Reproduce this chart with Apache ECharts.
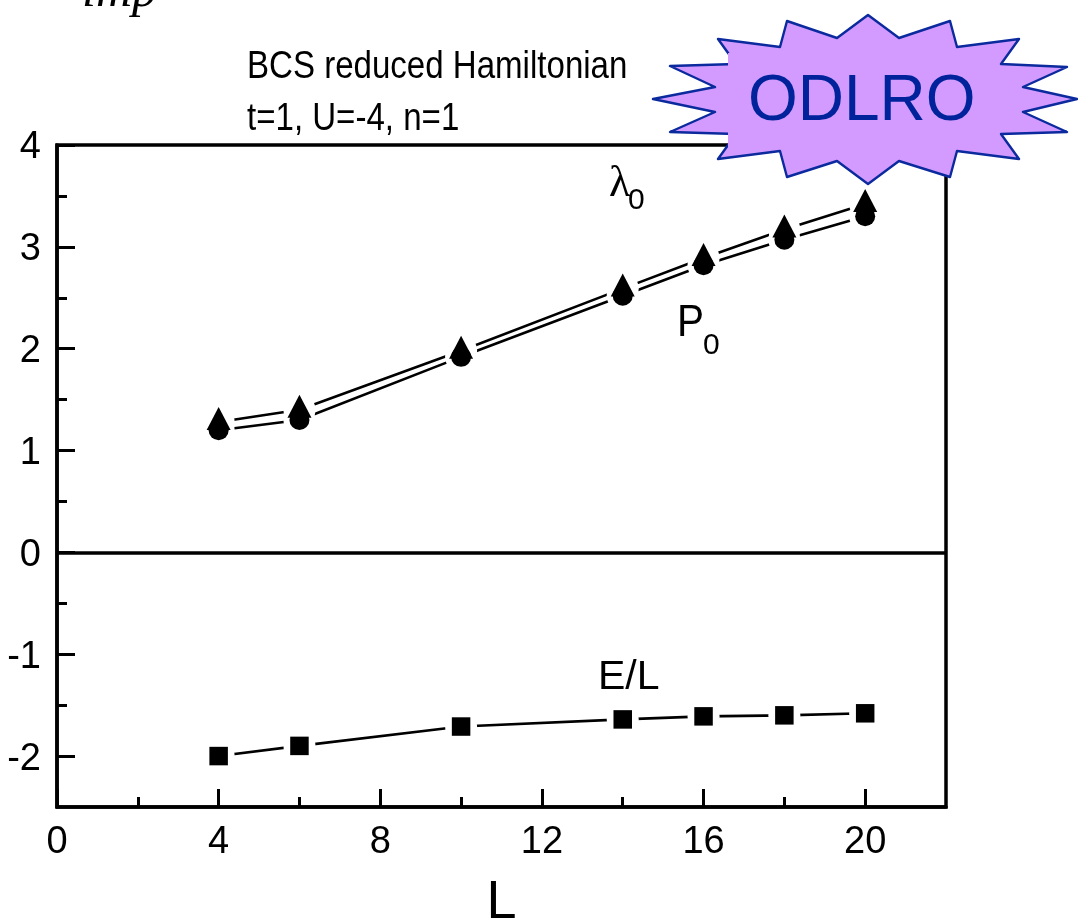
<!DOCTYPE html>
<html><head><meta charset="utf-8">
<style>html,body{margin:0;padding:0;background:#fff}#c{width:1078px;height:919px}</style>
<script src="https://cdn.jsdelivr.net/npm/echarts@6/dist/echarts.min.js"></script>
</head><body><div id="c"></div>
<script>
const sizes = [4, 6, 10, 14, 16, 18, 20];
const lambda0 = [1.28, 1.40, 1.98, 2.59, 2.89, 3.17, 3.42];
const p0 = [1.20, 1.30, 1.92, 2.52, 2.82, 3.07, 3.30];
const energy = [-2.0, -1.90, -1.71, -1.64, -1.61, -1.60, -1.58];
const xMajor = [0, 4, 8, 12, 16, 20];
const xMinor = [2, 6, 10, 14, 18];
const yMajor = [-2, -1, 0, 1, 2, 3, 4];
const yMinor = [-1.5, -0.5, 0.5, 1.5, 2.5, 3.5];
const starOutline = [[868,15],[899,38],[950,21],[957,47],[1019,39],[1001,64],[1067,67],[1023,87],[1077,99],[1023,112],[1067,132],[1001,134],[1019,159],[957,151],[950,177],[899,161],[868,184],[837,161],[787,177],[780,151],[718,159],[736,134],[670,132],[715,112],[653,99],[715,87],[670,66],[736,64],[718,39],[780,47],[787,21],[837,38]];

const FONT = '"Liberation Sans", Arial, sans-serif';
const pairs = s => sizes.map((x, i) => [x, s[i]]);
const line = (name, d) => ({name, type:'line', data:pairs(d), symbol:'none', z:2, lineStyle:{color:'#000', width:2.6, opacity:1}, animation:false});
const mask = d => ({type:'scatter', data:pairs(d), symbol:'circle', symbolSize:32, itemStyle:{color:'#fff', opacity:1}, z:3, silent:true, animation:false});
const marks = (d, symbol, size, off) => ({type:'scatter', data:pairs(d), symbol, symbolSize:size, symbolOffset:off, itemStyle:{color:'#000', opacity:1}, z:4, animation:false});
const label = (x, y, text, size, extra) => ({type:'text', z:50, x, y, style:Object.assign({text, fill:'#000', font:size+'px '+FONT}, extra||{})});

const chart = echarts.init(document.getElementById('c'), null, {renderer:'canvas'});
chart.setOption({
  animation:false,
  backgroundColor:'#fff',
  grid:{left:57, right:132, top:145, bottom:112, outerBoundsMode:'none', show:true, borderColor:'#000', borderWidth:3.5, backgroundColor:'transparent'},
  xAxis:[
    {type:'value', min:0, max:22, name:'L', nameLocation:'middle', nameGap:69,
     nameTextStyle:{fontFamily:FONT, fontSize:54, color:'#000'},
     axisLine:{onZero:false, lineStyle:{color:'#000', width:3.5}},
     axisTick:{inside:true, length:18, customValues:xMajor, lineStyle:{color:'#000', width:3}},
     axisLabel:{customValues:xMajor, margin:17, fontFamily:FONT, fontSize:38, color:'#000'},
     splitLine:{show:false}},
    {type:'value', min:0, max:22, position:'bottom',
     axisLine:{show:false, onZero:false},
     axisTick:{inside:true, length:10, customValues:xMinor, lineStyle:{color:'#000', width:3}},
     axisLabel:{show:false}, splitLine:{show:false}}
  ],
  yAxis:[
    {type:'value', min:-2.5, max:4,
     axisLine:{onZero:false, lineStyle:{color:'#000', width:3.5}},
     axisTick:{inside:true, length:18, customValues:yMajor, lineStyle:{color:'#000', width:3}},
     axisLabel:{customValues:yMajor, margin:16, verticalAlign:'top', lineHeight:6, fontFamily:FONT, fontSize:38, color:'#000'},
     splitLine:{show:false}},
    {type:'value', min:-2.5, max:4, position:'left',
     axisLine:{show:false, onZero:false},
     axisTick:{inside:true, length:10, customValues:yMinor, lineStyle:{color:'#000', width:3}},
     axisLabel:{show:false}, splitLine:{show:false}}
  ],
  series:[
    Object.assign(line('lambda0', lambda0), {markLine:{silent:true, symbol:'none', animation:false, label:{show:false},
      lineStyle:{color:'#000', width:3.5, type:'solid', opacity:1}, data:[{yAxis:0}]}}),
    line('P0', p0),
    line('E/L', energy),
    mask(lambda0), mask(p0), mask(energy),
    marks(p0, 'circle', 20, [0,0]),
    marks(lambda0, 'triangle', [24,23], [0,-3.5]),
    marks(energy, 'rect', 18.5, [0,0])
  ],
  graphic:[
    {type:'text', z:50, x:82, y:-32, style:{text:'imp', fill:'#000', font:'italic 50px "Liberation Serif", serif'}},
    {type:'text', z:50, x:247, y:49, scaleX:0.87, style:{text:'BCS reduced Hamiltonian', fill:'#000', font:'38px '+FONT}},
    {type:'text', z:50, x:247, y:101, scaleX:0.87, style:{text:'t=1, U=-4, n=1', fill:'#000', font:'38px '+FONT}},
    label(609, 162, 'λ', 44, {font:'44px "Liberation Serif", serif'}),
    label(628, 186, '0', 30),
    {type:'text', z:50, x:677, y:302, scaleX:0.92, style:{text:'P', fill:'#000', font:'44px '+FONT}},
    label(703, 331, '0', 30),
    {type:'text', z:50, x:598, y:657, style:{text:'E/L', fill:'#000', font:'41px '+FONT}},
    {type:'polygon', z:60, shape:{points:starOutline}, style:{fill:'#d39bff', stroke:'#0a2a9e', lineWidth:2.4, lineJoin:'round'}},
    {type:'rect', z:61, shape:{x:728, y:53, width:262, height:94}, style:{fill:'#d39bff'}},
    {type:'text', z:62, x:748, y:70, style:{text:'ODLRO', fill:'#00239c', font:'64px '+FONT}}
  ]
});
</script></body></html>
